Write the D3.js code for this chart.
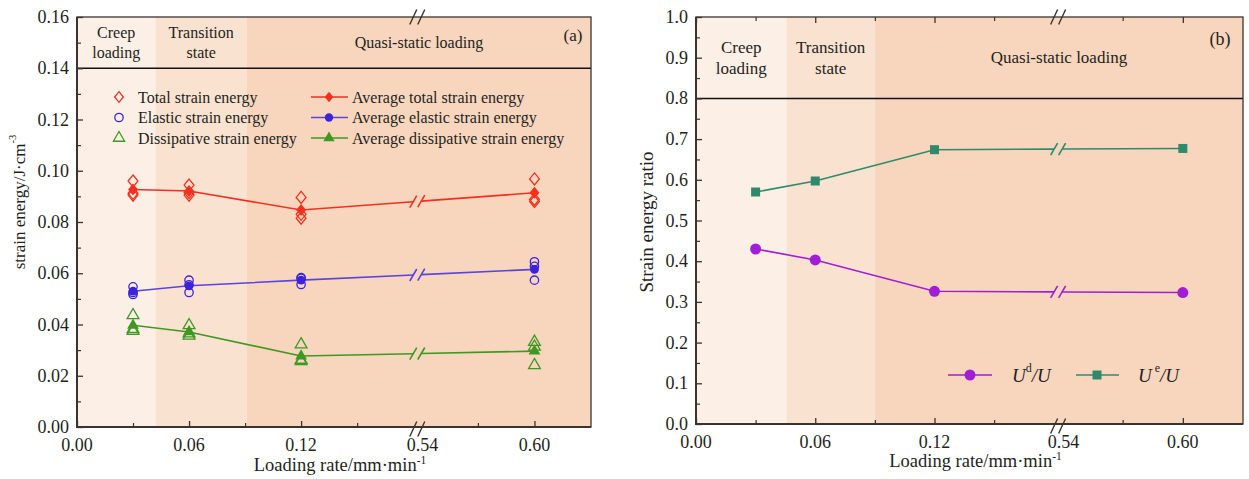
<!DOCTYPE html>
<html><head><meta charset="utf-8">
<script src="https://cdnjs.cloudflare.com/ajax/libs/d3/7.8.5/d3.min.js"></script>
<style>
body{margin:0;background:#fff}
svg{display:block}
text{font-family:"Liberation Serif","Times New Roman",serif;fill:#231f20}
</style>
</head><body>
<svg id="c" width="1249" height="479"></svg>
<script>
// ---------------- DATA ----------------
const rates = [0.03, 0.06, 0.12, 0.60];
const totalSamples   = [[0.0960,0.0912,0.0905],[0.0944,0.0905,0.0915],[0.0896,0.0815,0.0830],[0.0968,0.0888,0.0880]];
const elasticSamples = [[0.0547,0.0517,0.0525],[0.0573,0.0525,0.0555],[0.0583,0.0556,0.0580],[0.0645,0.0573,0.0627]];
const dissipSamples  = [[0.0436,0.0382,0.0375],[0.0397,0.0356,0.0365],[0.0322,0.0257,0.0262],[0.0332,0.0313,0.0241]];
const avgTotal   = [0.0927,0.0921,0.0847,0.0914];
const avgElastic = [0.0530,0.0551,0.0573,0.0615];
const avgDissip  = [0.0397,0.0371,0.0277,0.0296];
const ratioUd = [0.430,0.403,0.326,0.323];
const ratioUe = [0.570,0.597,0.674,0.677];
const xTickValues = [0.00,0.06,0.12,0.54,0.60];
const xTickLabels = ["0.00","0.06","0.12","0.54","0.60"];
const xMinorValues = [0.03,0.09,0.15,0.57];
const xBreak = [0.18, 0.54];
const xMax = 0.63;
const leftYTicks = [0,0.02,0.04,0.06,0.08,0.10,0.12,0.14,0.16];
const leftYMinor = [0.01,0.03,0.05,0.07,0.09,0.11,0.13,0.15];
const rightYTicks = [0,0.1,0.2,0.3,0.4,0.5,0.6,0.7,0.8,0.9,1.0];
const rightYMinor = [0.05,0.15,0.25,0.35,0.45,0.55,0.65,0.75,0.85,0.95];
const zoneNames = [["Creep","loading"],["Transition","state"],["Quasi-static loading"]];
const leftZoneEdges = [0, 0.042, 0.091, xMax];
const rightZoneEdges = [0, 0.0455, 0.09, xMax];
const leftDivider = 0.14;
const rightDivider = 0.8;
const leftLegendMarkers = ["Total strain energy","Elastic strain energy","Dissipative strain energy"];
const leftLegendLines = ["Average total strain energy","Average elastic strain energy","Average dissipative strain energy"];

// ---------------- STYLE ----------------
const zoneColors = ["#fcefe6","#fae2d1","#f8d6be"];
const RED="#f2301e", BLUE="#3b22dc", BLUE_L="#5944e0", GREEN="#3f9822", PURPLE="#a21ed6", TEAL="#2f8a6c";
const AX="#3a3330";

const svg = d3.select("#c");

const diamond = {draw(ctx, size){ const h=Math.sqrt(size)*0.72, w=h*0.82; ctx.moveTo(0,-h); ctx.lineTo(w,0); ctx.lineTo(0,h); ctx.lineTo(-w,0); ctx.closePath(); }};

function makePanel(p){
  const W = p.R - p.L;
  const x = d3.scaleLinear().domain([0, xBreak[0], xBreak[1], xMax])
      .range([p.L, p.L + W*0.654, p.L + W*0.670, p.R]);
  const y = d3.scaleLinear().domain(p.yDomain).range([p.B, p.T]);
  const bx = (x(xBreak[0]) + x(xBreak[1]))/2;
  const g = svg.append("g");

  // zones
  const e = p.zoneEdges;
  for(let i=0;i<3;i++){
    g.append("rect").attr("x",x(e[i])).attr("y",p.T).attr("width",x(e[i+1])-x(e[i])).attr("height",p.B-p.T)
      .attr("fill",zoneColors[i]);
    const cx=(x(e[i])+x(e[i+1]))/2, cy=(p.T+y(p.divider))/2;
    const lines=zoneNames[i];
    lines.forEach((t,j)=>{
      g.append("text").attr("x",cx).attr("y",cy+(j-(lines.length-1)/2)*p.zoneLH)
        .attr("text-anchor","middle").attr("dominant-baseline","central")
        .attr("font-size",p.zoneFS).text(t);
    });
  }
  g.append("line").attr("x1",p.L).attr("x2",p.R).attr("y1",y(p.divider)).attr("y2",y(p.divider))
    .attr("stroke","#111").attr("stroke-width",1.5);
  g.append("text").attr("x",p.tagX).attr("y",p.tagY).attr("text-anchor","middle").attr("dominant-baseline","central")
    .attr("font-size",p.zoneFS+1).text(p.tag);

  // frame
  g.append("rect").attr("x",p.L).attr("y",p.T).attr("width",W).attr("height",p.B-p.T)
    .attr("fill","none").attr("stroke",AX).attr("stroke-width",1.3);
  g.append("path").attr("d",`M${p.L},${p.T}V${p.B}H${p.R}`).attr("fill","none").attr("stroke",AX).attr("stroke-width",2);

  // x axis (inward ticks)
  const xa = d3.axisBottom(x).tickValues(xTickValues.filter(v=>v!==0.54)).tickSize(-6).tickFormat("");
  g.append("g").attr("transform",`translate(0,${p.B})`).call(xa).call(s=>{s.select(".domain").remove(); s.selectAll("line").attr("stroke",AX).attr("stroke-width",1.3);});
  const xm = d3.axisBottom(x).tickValues(xMinorValues).tickSize(-4).tickFormat("");
  g.append("g").attr("transform",`translate(0,${p.B})`).call(xm).call(s=>{s.select(".domain").remove(); s.selectAll("line").attr("stroke",AX).attr("stroke-width",1.2);});
  if(p.topTicks){
    const xt = d3.axisTop(x).tickValues(xTickValues.filter(v=>v!==0.54)).tickSize(-6).tickFormat("");
    g.append("g").attr("transform",`translate(0,${p.T})`).call(xt).call(s=>{s.select(".domain").remove(); s.selectAll("line").attr("stroke",AX).attr("stroke-width",1.3);});
    const xtm = d3.axisTop(x).tickValues(xMinorValues).tickSize(-4).tickFormat("");
    g.append("g").attr("transform",`translate(0,${p.T})`).call(xtm).call(s=>{s.select(".domain").remove(); s.selectAll("line").attr("stroke",AX).attr("stroke-width",1.2);});
  }
  xTickValues.forEach((v,i)=>{
    const px = v===0.54 ? x(v)+1 : x(v);
    g.append("text").attr("x",px).attr("y",p.B+p.xLabDY).attr("text-anchor","middle").attr("dominant-baseline","central")
      .attr("font-size",p.tickFS).text(xTickLabels[i]);
  });
  // y axis
  const ya = d3.axisLeft(y).tickValues(p.yTicks).tickSize(-6).tickFormat("");
  g.append("g").attr("transform",`translate(${p.L},0)`).call(ya).call(s=>{s.select(".domain").remove(); s.selectAll("line").attr("stroke",AX).attr("stroke-width",1.3);});
  const ym = d3.axisLeft(y).tickValues(p.yMinor).tickSize(-4).tickFormat("");
  g.append("g").attr("transform",`translate(${p.L},0)`).call(ym).call(s=>{s.select(".domain").remove(); s.selectAll("line").attr("stroke",AX).attr("stroke-width",1.2);});
  p.yTicks.forEach(v=>{
    g.append("text").attr("x",p.L-8).attr("y",y(v)).attr("text-anchor","end").attr("dominant-baseline","central")
      .attr("font-size",p.tickFS).text(d3.format(p.yFmt)(v));
  });

  // axis break marks
  function slashes(cx, cy, h, w, gap, color, sw){
    [-gap/2, gap/2].forEach(o=>{
      g.append("line").attr("x1",cx+o-w/2).attr("y1",cy+h/2).attr("x2",cx+o+w/2).attr("y2",cy-h/2)
        .attr("stroke",color).attr("stroke-width",sw);
    });
  }
  slashes(bx, p.T, 15, 7, 8, AX, 1.4);
  slashes(bx, p.B+2, 15, 7, 8, AX, 1.4);

  // titles
  const xt = g.append("text").attr("x",(p.L+p.R)/2+6).attr("y",p.B+p.xTitleDY).attr("text-anchor","middle")
    .attr("font-size",p.titleFS);
  xt.append("tspan").text("Loading rate/mm·min");
  xt.append("tspan").attr("font-size",p.titleFS*0.62).attr("dy",-7).text("-1");
  const yt = g.append("text").attr("transform",`translate(${p.yTitleX},${p.yTitleY}) rotate(-90)`).attr("text-anchor","middle")
    .attr("dominant-baseline","central").attr("font-size",p.yTitleFS);
  yt.append("tspan").text(p.yTitle);
  if(p.yTitleSup){ yt.append("tspan").attr("font-size",p.yTitleFS*0.62).attr("dy",-7).text(p.yTitleSup); }

  // series line with break
  function seriesLine(vals, color){
    const pts = rates.map((r,i)=>[x(r), y(vals[i])]);
    const a = pts[2], b = pts[3];
    const yAt = px => a[1] + (b[1]-a[1])*(px-a[0])/(b[0]-a[0]);
    const gl = bx-4, gr = bx+4;
    g.append("path").attr("d", d3.line()([pts[0],pts[1],pts[2],[gl,yAt(gl)]])).attr("fill","none").attr("stroke",color).attr("stroke-width",1.6);
    g.append("path").attr("d", d3.line()([[gr,yAt(gr)],pts[3]])).attr("fill","none").attr("stroke",color).attr("stroke-width",1.6);
    [gl,gr].forEach(px=>{
      g.append("line").attr("x1",px-3.5).attr("y1",yAt(px)+6).attr("x2",px+3.5).attr("y2",yAt(px)-6)
        .attr("stroke",color).attr("stroke-width",1.6);
    });
  }
  return {x,y,g,seriesLine};
}

// ---------- LEFT PANEL ----------
const A = makePanel({L:77,R:591,T:17,B:427,yDomain:[0,0.16],yTicks:leftYTicks,yMinor:leftYMinor,yFmt:".2f",
  zoneEdges:leftZoneEdges,divider:leftDivider,zoneFS:16,zoneLH:20,tag:"(a)",tagX:573,tagY:35,topTicks:false,
  tickFS:18,titleFS:18.5,yTitleFS:17,xLabDY:18,xTitleDY:44,yTitle:"strain energy/J·cm",yTitleSup:"-3",yTitleX:19,yTitleY:202});

A.seriesLine(avgTotal, RED);
A.seriesLine(avgElastic, BLUE_L);
A.seriesLine(avgDissip, GREEN);

function openMarkers(samples, type, size, color){
  samples.forEach((arr,i)=>arr.forEach(v=>{
    A.g.append("path").attr("d",d3.symbol().type(type).size(size)()).attr("transform",`translate(${A.x(rates[i])},${A.y(v)})`)
      .attr("fill","none").attr("stroke",color).attr("stroke-width",1.3);
  }));
}
openMarkers(totalSamples, diamond, 70, RED);
openMarkers(elasticSamples, d3.symbolCircle, 55, BLUE);
openMarkers(dissipSamples, d3.symbolTriangle, 60, GREEN);
function filledMarkers(vals, type, size, color){
  vals.forEach((v,i)=>{
    A.g.append("path").attr("d",d3.symbol().type(type).size(size)()).attr("transform",`translate(${A.x(rates[i])},${A.y(v)})`)
      .attr("fill",color);
  });
}
filledMarkers(avgTotal, diamond, 70, RED);
filledMarkers(avgElastic, d3.symbolCircle, 60, BLUE);
filledMarkers(avgDissip, d3.symbolTriangle, 60, GREEN);

// legend left
const legTypes=[diamond,d3.symbolCircle,d3.symbolTriangle], legCols=[RED,BLUE,GREEN], legLineCols=[RED,BLUE_L,GREEN];
leftLegendMarkers.forEach((t,i)=>{
  const yy = 97 + i*20.5;
  A.g.append("path").attr("d",d3.symbol().type(legTypes[i]).size(55)()).attr("transform",`translate(119,${yy})`)
    .attr("fill","none").attr("stroke",legCols[i]).attr("stroke-width",1.3);
  A.g.append("text").attr("x",138).attr("y",yy).attr("dominant-baseline","central").attr("font-size",16).text(t);
});
leftLegendLines.forEach((t,i)=>{
  const yy = 97 + i*20.5;
  A.g.append("line").attr("x1",311).attr("x2",348).attr("y1",yy).attr("y2",yy).attr("stroke",legLineCols[i]).attr("stroke-width",1.6);
  A.g.append("path").attr("d",d3.symbol().type(legTypes[i]).size(55)()).attr("transform",`translate(329,${yy})`).attr("fill",legCols[i]);
  A.g.append("text").attr("x",352).attr("y",yy).attr("dominant-baseline","central").attr("font-size",16).text(t);
});

// ---------- RIGHT PANEL ----------
const B = makePanel({L:696,R:1243,T:17,B:424,yDomain:[0,1.0],yTicks:rightYTicks,yMinor:rightYMinor,yFmt:".1f",
  zoneEdges:rightZoneEdges,divider:rightDivider,zoneFS:17,zoneLH:21,tag:"(b)",tagX:1220,tagY:39,topTicks:true,
  tickFS:18,titleFS:18.5,yTitleFS:19,xLabDY:18,xTitleDY:43,yTitle:"Strain energy ratio",yTitleSup:null,yTitleX:646,yTitleY:222});

B.seriesLine(ratioUd, PURPLE);
B.seriesLine(ratioUe, TEAL);
ratioUd.forEach((v,i)=>{
  B.g.append("circle").attr("cx",B.x(rates[i])).attr("cy",B.y(v)).attr("r",5.5).attr("fill",PURPLE);
});
ratioUe.forEach((v,i)=>{
  B.g.append("rect").attr("x",B.x(rates[i])-4.5).attr("y",B.y(v)-4.5).attr("width",9).attr("height",9).attr("fill",TEAL);
});
// legend right
const ly = 375;
B.g.append("line").attr("x1",948).attr("x2",992).attr("y1",ly).attr("y2",ly).attr("stroke",PURPLE).attr("stroke-width",1.6);
B.g.append("circle").attr("cx",970).attr("cy",ly).attr("r",5.5).attr("fill",PURPLE);
const t1 = B.g.append("text").attr("x",1012).attr("y",ly).attr("dominant-baseline","central").attr("font-size",19);
t1.append("tspan").attr("font-style","italic").text("U");
t1.append("tspan").attr("font-size",12).attr("dy",-7).text("d");
t1.append("tspan").attr("font-style","italic").attr("dy",7).text("/U");
B.g.append("line").attr("x1",1076).attr("x2",1119).attr("y1",ly).attr("y2",ly).attr("stroke",TEAL).attr("stroke-width",1.6);
B.g.append("rect").attr("x",1097-4.5).attr("y",ly-4.5).attr("width",9).attr("height",9).attr("fill",TEAL);
const t2 = B.g.append("text").attr("x",1138).attr("y",ly).attr("dominant-baseline","central").attr("font-size",19);
t2.append("tspan").attr("font-style","italic").text("U");
t2.append("tspan").attr("font-size",12).attr("dy",-7).text(" e");
t2.append("tspan").attr("font-style","italic").attr("dy",7).text("/U");
</script>
</body></html>
